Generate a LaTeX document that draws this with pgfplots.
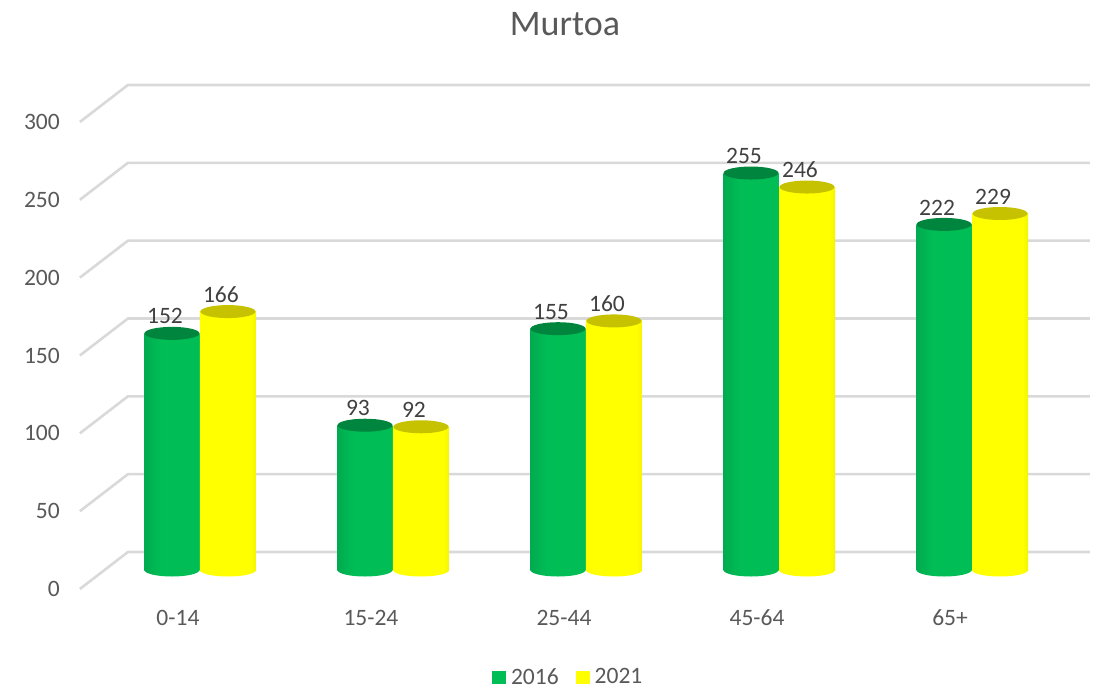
\documentclass[border=0pt]{standalone}
\usepackage{pgfplots}
\pgfplotsset{compat=1.18}
\usepackage{fontspec}
\setmainfont{Carlito}
\definecolor{gdark}{HTML}{00773A}
\definecolor{gmid}{HTML}{009A48}
\definecolor{gbright}{HTML}{00BD56}
\definecolor{gtop}{HTML}{00853E}
\definecolor{yedge}{HTML}{D8D800}
\definecolor{ydark}{HTML}{A8A800}
\definecolor{ybright}{HTML}{FFFF00}
\definecolor{ytop}{HTML}{C6C200}
\definecolor{gridc}{HTML}{D9D9D9}
\definecolor{txt}{HTML}{595959}
\definecolor{vtxt}{HTML}{404040}
\pgfdeclarehorizontalshading{gcyl}{100bp}{color(0bp)=(gdark); color(10bp)=(gmid); color(40bp)=(gbright); color(75bp)=(gbright); color(100bp)=(gmid)}
\pgfdeclarehorizontalshading{ycyl}{100bp}{color(0bp)=(yedge); color(15bp)=(ybright); color(70bp)=(ybright); color(88bp)=(yedge); color(100bp)=(ydark)}
\pgfdeclareplotmark{cyltop}{\pgfpathellipse{\pgfpointorigin}{\pgfpoint{27.5pt}{0pt}}{\pgfpoint{0pt}{6.5pt}}\pgfusepathqfill}
\pgfdeclareplotmark{gbot}{\pgfpathellipse{\pgfpointorigin}{\pgfpoint{27.5pt}{0pt}}{\pgfpoint{0pt}{6.5pt}}\pgfshadepath{gcyl}{0}\pgfusepath{}}
\pgfdeclareplotmark{ybot}{\pgfpathellipse{\pgfpointorigin}{\pgfpoint{28pt}{0pt}}{\pgfpoint{0pt}{6.5pt}}\pgfshadepath{ycyl}{0}\pgfusepath{}}
\begin{document}
\begin{tikzpicture}
\path[use as bounding box] (0,0) rectangle (1099pt,689pt);
\node[font=\fontsize{36}{40}\selectfont, text=txt] at (565pt,665pt) {Murtoa};
\begin{axis}[
  at={(60pt,89pt)}, anchor=south west,
  scale only axis, width=1035pt, height=540pt,
  xmin=-0.725, xmax=4.637, ymin=-19.27, ymax=327.6,
  clip=false,
  axis line style={draw=none},
  major tick length=0pt,
  /pgf/number format/assume math mode=true,
  ytick={-12.2,37.8,87.8,137.8,187.8,237.8,287.8},
  yticklabels={0,50,100,150,200,250,300},
  yticklabel style={anchor=east, inner sep=0pt, font=\fontsize{23.5}{28}\selectfont, text=txt},
  xtick={0,1,2,3,4},
  xticklabels={0-14,15-24,25-44,45-64,65+},
  xticklabel style={anchor=center, inner sep=0pt, yshift=-18pt, xshift=-22pt, font=\fontsize{23.5}{28}\selectfont, text=txt},
  legend style={draw=none, at={(0.491,-0.1426)}, anchor=center, font=\fontsize{23.5}{28}\selectfont, text=txt,
    /tikz/every odd column/.append style={column sep=3pt},
    /tikz/every even column/.append style={column sep=15pt}},
  legend columns=2,
  legend image code/.code={\fill[#1] (0pt,-6.5pt) rectangle (14pt,6.5pt);},
  gbar/.style={ybar, bar width=55pt, bar shift=-28pt, draw=none, shade, shading=gcyl, forget plot},
  ybarr/.style={ybar, bar width=56pt, bar shift=28pt, draw=none, shade, shading=ycyl, forget plot},
]
% grid
\pgfplotsinvokeforeach{0,50,100,150,200,250,300}{
  \addplot[gridc, line width=2.6pt, forget plot] coordinates {(-0.622,#1-12.2) (-0.373,#1+11.56) (4.611,#1+11.56)};
}
% bottom ellipses
\addplot[only marks, mark=gbot, forget plot] coordinates {(-0.145,0) (0.855,0) (1.855,0) (2.855,0) (3.855,0)};
\addplot[only marks, mark=ybot, forget plot] coordinates {(0.145,0) (1.145,0) (2.145,0) (3.145,0) (4.145,0)};
% bars 2016
\addplot[gbar] coordinates {(0,152)};
\addplot[gbar] coordinates {(1,93)};
\addplot[gbar] coordinates {(2,155)};
\addplot[gbar] coordinates {(3,255)};
\addplot[gbar] coordinates {(4,222)};
% bars 2021
\addplot[ybarr] coordinates {(0,166)};
\addplot[ybarr] coordinates {(1,92)};
\addplot[ybarr] coordinates {(2,160)};
\addplot[ybarr] coordinates {(3,246)};
\addplot[ybarr] coordinates {(4,229)};
% tops with labels
\addplot[only marks, mark=cyltop, mark options={fill=gtop, draw=none}, forget plot,
  nodes near coords, nodes near coords style={anchor=center, yshift=17pt, xshift=-7pt, font=\fontsize{23.5}{28}\selectfont, text=vtxt}]
  coordinates {(-0.145,152) (0.855,93) (1.855,155) (2.855,255) (3.855,222)};
\addplot[only marks, mark=cyltop, mark options={fill=ytop, draw=none}, forget plot,
  nodes near coords, nodes near coords style={anchor=center, yshift=17pt, xshift=-7pt, font=\fontsize{23.5}{28}\selectfont, text=vtxt}]
  coordinates {(0.145,166) (1.145,92) (2.145,160) (3.145,246) (4.145,229)};
\addlegendimage{fill=gbright, draw=none}
\addlegendentry{2016}
\addlegendimage{fill=ybright, draw=none}
\addlegendentry{2021}
\end{axis}
\end{tikzpicture}
\end{document}
